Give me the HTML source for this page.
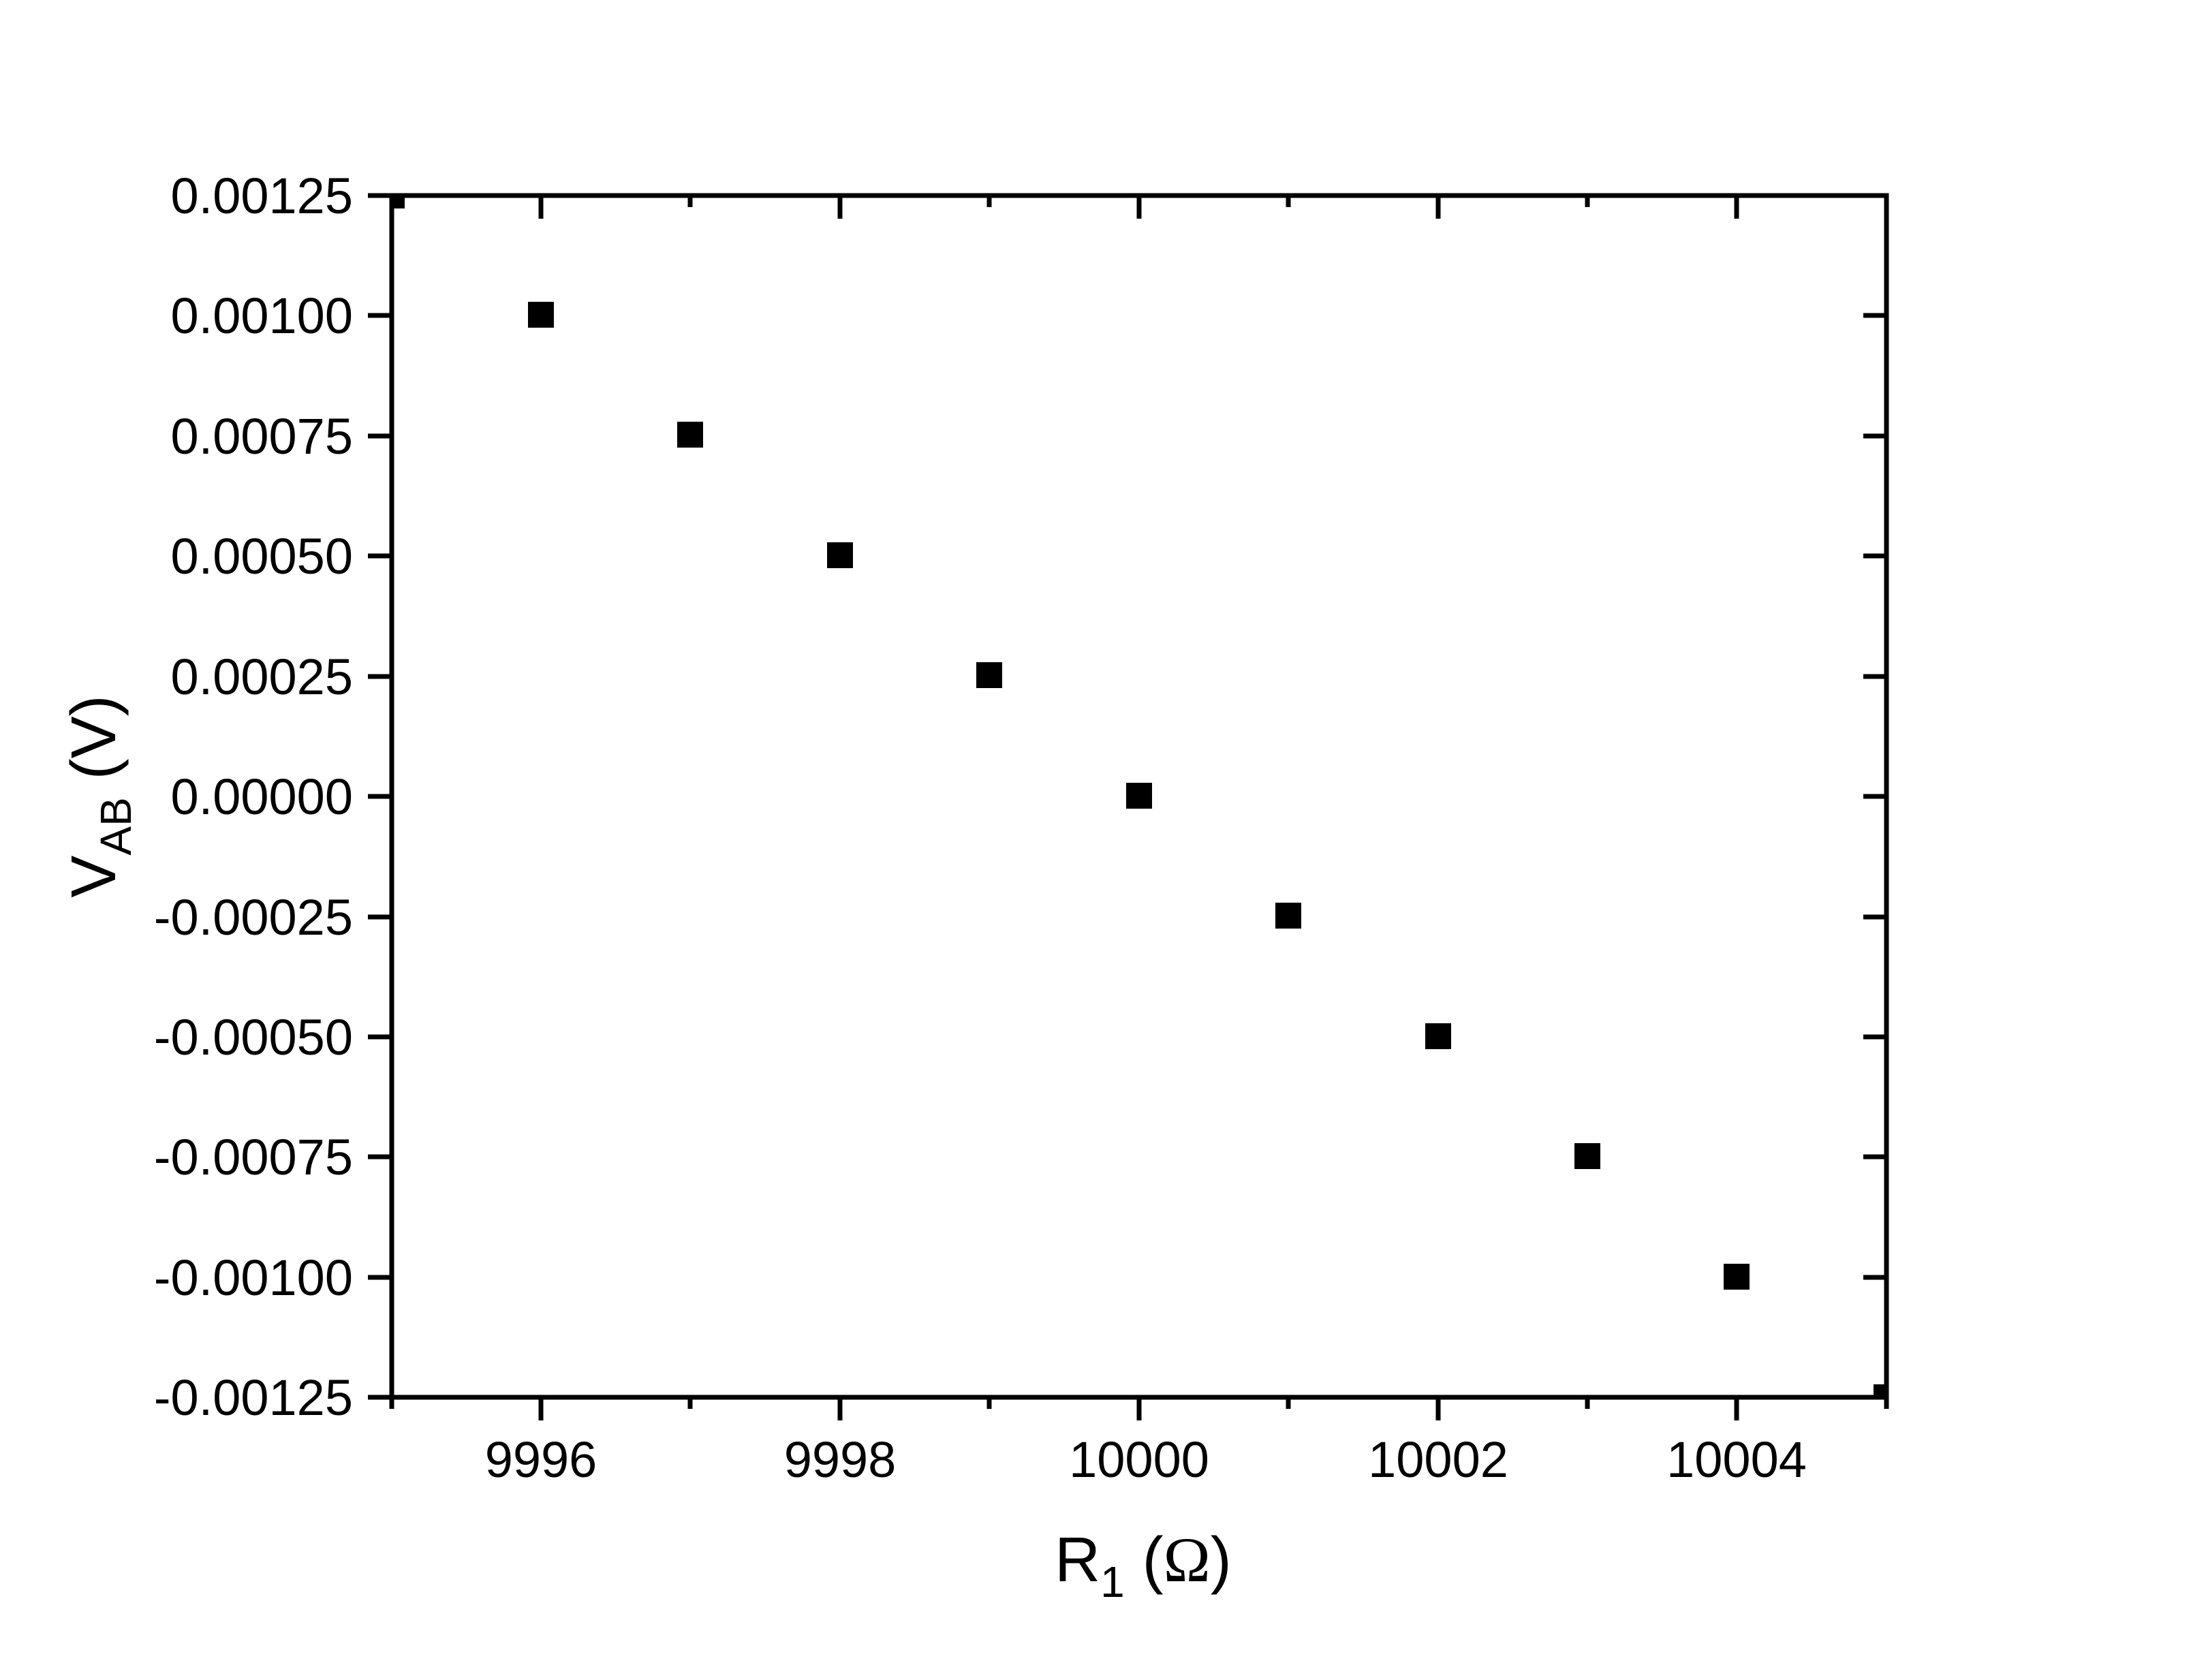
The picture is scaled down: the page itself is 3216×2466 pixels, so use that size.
<!DOCTYPE html>
<html><head><meta charset="utf-8"><style>html,body{margin:0;padding:0;background:#fff}</style></head>
<body>
<svg width="3216" height="2461" viewBox="0 0 3216 2461" xmlns="http://www.w3.org/2000/svg" font-family="Liberation Sans, Arial, sans-serif">
<rect width="3216" height="2461" fill="#fff"/>
<defs><clipPath id="c"><rect x="575" y="287" width="2194" height="1764"/></clipPath></defs>
<g clip-path="url(#c)" fill="#000">
<rect x="556" y="268" width="38" height="38"/>
<rect x="775" y="443" width="38" height="38"/>
<rect x="994" y="619" width="38" height="38"/>
<rect x="1214" y="796" width="38" height="38"/>
<rect x="1433" y="972" width="38" height="38"/>
<rect x="1653" y="1149" width="38" height="38"/>
<rect x="1872" y="1325" width="38" height="38"/>
<rect x="2092" y="1502" width="38" height="38"/>
<rect x="2311" y="1678" width="38" height="38"/>
<rect x="2530" y="1855" width="38" height="38"/>
<rect x="2750" y="2032" width="38" height="38"/>
</g>
<g stroke="#000" stroke-width="7" fill="none">
<rect x="575" y="287" width="2194" height="1764"/>
<path d="M575 2051v17M794 2051v34M1013 2051v17M1233 2051v34M1452 2051v17M1672 2051v34M1891 2051v17M2111 2051v34M2330 2051v17M2549 2051v34M2769 2051v17"/>
<path d="M794 287v34M1013 287v17M1233 287v34M1452 287v17M1672 287v34M1891 287v17M2111 287v34M2330 287v17M2549 287v34"/>
<path d="M540 287h35M540 463h35M540 640h35M540 816h35M540 993h35M540 1169h35M540 1346h35M540 1522h35M540 1698h35M540 1875h35M540 2051h35"/>
<path d="M2735 463h34M2735 640h34M2735 816h34M2735 993h34M2735 1169h34M2735 1346h34M2735 1522h34M2735 1698h34M2735 1875h34"/>
</g>
<g font-size="74" text-anchor="end" fill="#000">
<text x="518" y="313">0.00125</text>
<text x="518" y="489">0.00100</text>
<text x="518" y="666">0.00075</text>
<text x="518" y="842">0.00050</text>
<text x="518" y="1019">0.00025</text>
<text x="518" y="1195">0.00000</text>
<text x="518" y="1372">-0.00025</text>
<text x="518" y="1548">-0.00050</text>
<text x="518" y="1724">-0.00075</text>
<text x="518" y="1901">-0.00100</text>
<text x="518" y="2077">-0.00125</text>
</g>
<g font-size="74" text-anchor="middle" fill="#000">
<text x="794" y="2168">9996</text>
<text x="1233" y="2168">9998</text>
<text x="1672" y="2168">10000</text>
<text x="2111" y="2168">10002</text>
<text x="2549" y="2168">10004</text>
</g>
<text x="1548" y="2321" font-size="93" fill="#000">R<tspan font-size="64" dy="23">1</tspan><tspan dy="-23"> (</tspan><tspan font-family="Liberation Serif, serif">Ω</tspan>)</text>
<text transform="translate(169,1169) rotate(-90)" text-anchor="middle" font-size="93" fill="#000">V<tspan font-size="64" dy="23">AB</tspan><tspan dy="-23"> (V)</tspan></text>
</svg>
</body></html>
